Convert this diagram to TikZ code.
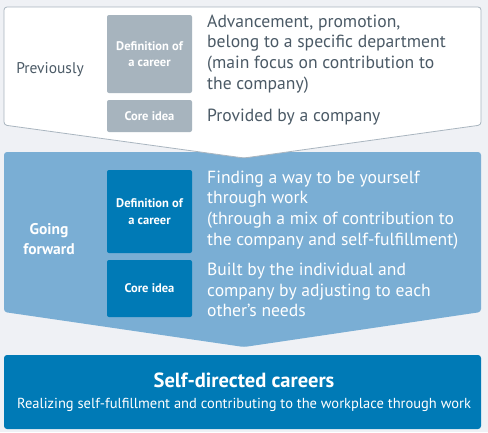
\documentclass[tikz,border=0pt]{standalone}
\usepackage{fontspec}
\setmainfont{PT Sans}
\definecolor{bg}{HTML}{EFF1F5}
\definecolor{panelline}{HTML}{A9B5BF}
\definecolor{greybox}{HTML}{A7B4BE}
\definecolor{lightblue}{HTML}{7AAED4}
\definecolor{darkblue}{HTML}{007AB6}
\definecolor{textgrey}{HTML}{4B5A66}
\tikzset{
  labelbox/.style={rounded corners=2bp, text=white, align=center, inner sep=0pt,
     font=\fontsize{12.5bp}{16.5bp}\selectfont\bfseries},
  bodytext/.style={anchor=west, align=left, inner sep=0pt,
     font=\fontsize{17.6bp}{20.8bp}\selectfont},
  sidetext/.style={align=center, inner sep=0pt, font=\fontsize{15.5bp}{20bp}\selectfont},
}
\begin{document}
\begin{tikzpicture}[x=1bp,y=-1bp]
\fill[bg] (0,0) rectangle (488,432);
\useasboundingbox (0,0) rectangle (488,432);
% blue panel
\fill[lightblue, rounded corners=3bp] (4,152) -- (481,152) -- (481,312) -- (244,347) -- (4,312) -- cycle;
% white panel
\filldraw[fill=white, draw=panelline, line width=0.8bp, rounded corners=3bp]
  (4,7) -- (481,7) -- (481,125) -- (244,158) -- (4,125) -- cycle;
% bottom box
\fill[darkblue, rounded corners=3bp] (4,355) rectangle (481,429);

% previously
\node[sidetext, text=textgrey] (prev) at (50,70) {Previously};
\node[labelbox, fill=greybox, minimum width=85bp, minimum height=78bp] (pdef) at (149.5,54) {Definition of\\a career};
\node[labelbox, fill=greybox, minimum width=85bp, minimum height=32bp] (pcore) at (149.5,116) {Core idea};
\node[bodytext, text=textgrey] (ptext1) at (207,54) {Advancement, promotion,\\belong to a specific department\\(main focus on contribution to\\the company)};
\node[bodytext, text=textgrey] (ptext2) at (207,117) {Provided by a company};

% going forward
\node[sidetext, text=white, font=\fontsize{15.5bp}{20bp}\selectfont\bfseries] (gf) at (49,239) {Going\\forward};
\node[labelbox, fill=darkblue, minimum width=85bp, minimum height=83bp] (gdef) at (149.5,211.5) {Definition of\\a career};
\node[labelbox, fill=darkblue, minimum width=85bp, minimum height=57bp] (gcore) at (149.5,288.5) {Core idea};
\node[bodytext, text=white] (gtext1) at (207,210) {Finding a way to be yourself\\through work\\(through a mix of contribution to\\the company and self-fulfillment)};
\node[bodytext, text=white] (gtext2) at (207,290) {Built by the individual and\\company by adjusting to each\\other's needs};

% bottom
\node[text=white, inner sep=0pt, font=\fontsize{20.5bp}{24bp}\selectfont\bfseries] (sdc) at (244,380) {Self-directed careers};
\node[text=white, inner sep=0pt, font=\fontsize{14.5bp}{17bp}\selectfont] (sub) at (244,405) {Realizing self-fulfillment and contributing to the workplace through work};
\end{tikzpicture}
\end{document}
